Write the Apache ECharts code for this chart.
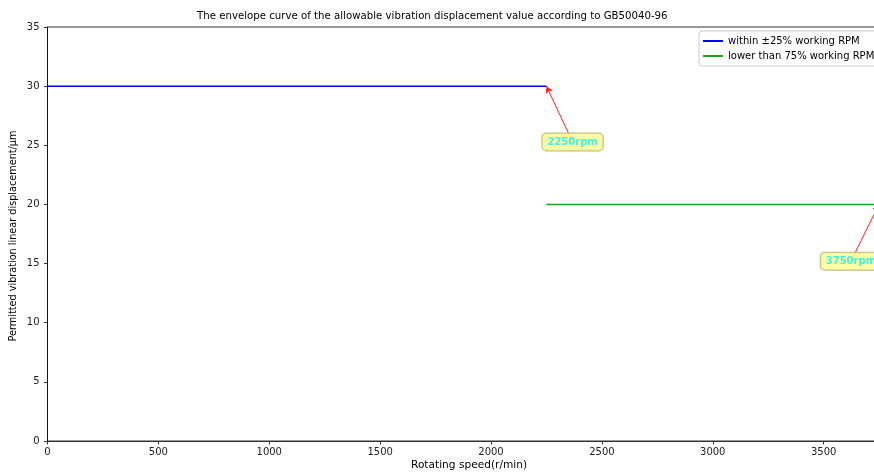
<!DOCTYPE html>
<html><head><meta charset="utf-8">
<script src="https://cdn.jsdelivr.net/npm/echarts@6/dist/echarts.min.js"></script>
<style>html,body{margin:0;padding:0;background:#fff;overflow:hidden;width:874px;height:472px}#c{width:960px;height:472px}</style>
</head><body><div id="c"></div>
<script>
const xTicks = [0,500,1000,1500,2000,2500,3000,3500,4000];
const yTicks = [0,5,10,15,20,25,30,35];
const seriesNames = ['within \u00b125% working RPM','lower than 75% working RPM'];
const blueX = [0, 2250];
const blueY = [30, 30];
const greenX = [2250, 4000];
const greenY = [20, 20];
const annoText = ['2250rpm','3750rpm'];
const annoTarget = [[2250,30],[3750,20]];
const annoTextPos = [[2368,25.28],[3623,15.2]];

const FONT = 'DejaVu Sans';
const chart = echarts.init(document.getElementById('c'));
const option = {
  animation:false,
  backgroundColor:'#fff',
  textStyle:{fontFamily:FONT},
  title:{text:'The envelope curve of the allowable vibration displacement value according to GB50040-96',
    left:192, top:6, textStyle:{fontFamily:FONT,fontSize:10.2,fontWeight:'normal',color:'#000'}},
  grid:{left:47.5,top:27,bottom:31,right:25.5,show:true,borderColor:'#333',borderWidth:1,backgroundColor:'transparent'},
  legend:{data:seriesNames, orient:'vertical', left:699, top:31, itemWidth:20, itemHeight:2, icon:'rect',
    itemGap:5, itemTextGap:8, padding:[5,10,5,4], borderColor:'#ccc', borderWidth:1, borderRadius:3,
    backgroundColor:'#fff', textStyle:{fontFamily:FONT,fontSize:10,color:'#000'}},
  xAxis:{type:'value',min:xTicks[0],max:xTicks[xTicks.length-1],interval:500,
    axisLine:{lineStyle:{color:'#333',width:1}},axisTick:{length:3.5,lineStyle:{color:'#333'}},
    axisLabel:{fontFamily:FONT,fontSize:10,color:'#222',margin:6,formatter:v=>String(v)},splitLine:{show:false}},
  yAxis:{type:'value',min:yTicks[0],max:yTicks[yTicks.length-1],interval:5,
    axisLine:{show:true,lineStyle:{color:'#111',width:1}},axisTick:{show:true,length:3.5,lineStyle:{color:'#333'}},
    axisLabel:{fontFamily:FONT,fontSize:10,color:'#222',margin:8,formatter:v=>String(v)},splitLine:{show:false}},
  graphic:[
    {type:'text',left:411,top:460,style:{text:'Rotating speed(r/min)',font:'10.6px "DejaVu Sans"',fill:'#000'}},
    {type:'text',rotation:Math.PI/2,x:13,y:236,style:{text:'Permitted vibration linear displacement/\u03bcm',font:'9.7px "DejaVu Sans"',fill:'#000',align:'center',verticalAlign:'middle'}}
  ],
  series:[
    {name:seriesNames[0],type:'line',data:blueX.map((x,i)=>[x,blueY[i]]),symbol:'none',
      lineStyle:{color:'#0000ff',width:1.5},itemStyle:{color:'#0000ff'},z:3},
    {name:seriesNames[1],type:'line',data:greenX.map((x,i)=>[x,greenY[i]]),symbol:'none',
      lineStyle:{color:'#1f9f1f',width:1.5},itemStyle:{color:'#1f9f1f'},z:3,
      markLine:{silent:true,symbol:['none','arrow'],symbolSize:[6,7],label:{show:false},
        lineStyle:{color:'#ff2020',width:1,type:'solid'},
        data:annoTarget.map((t,i)=>[{coord:annoTextPos[i]},{coord:t}])}},
    {name:'anno',type:'scatter',symbolSize:1,itemStyle:{color:'rgba(0,0,0,0)'},z:10,
      data:annoTextPos.map((p,i)=>({value:p,name:annoText[i]})),
      label:{show:true,position:'inside',formatter:p=>p.name,fontFamily:FONT,fontSize:10,fontWeight:'bold',
        color:'#10f0f0',backgroundColor:'#ffff90',borderColor:'#a8a878',borderWidth:1,borderRadius:4,padding:[4,5,3,5]}}
  ]
};
chart.setOption(option);
</script></body></html>
